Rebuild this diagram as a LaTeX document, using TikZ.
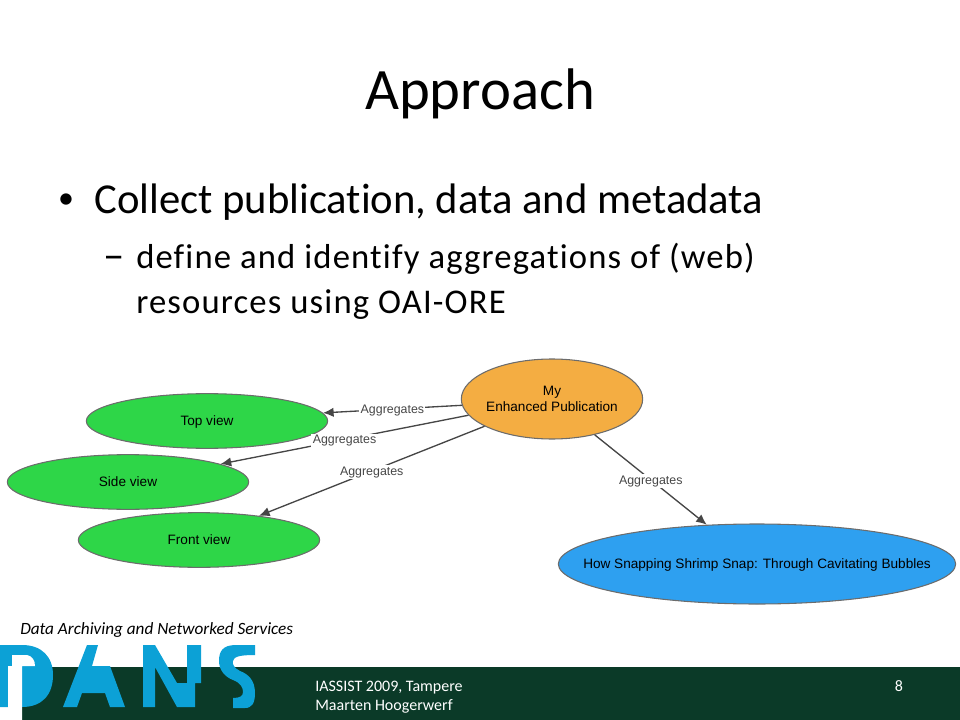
\documentclass[tikz,border=0pt]{standalone}
\usepackage{fontspec}
\setmainfont[Ligatures=CommonOff]{Carlito}
\newfontfamily\arialfont{Liberation Sans}
\newfontfamily\spacedfont[Ligatures=CommonOff,LetterSpace=3.3]{Carlito}
\usetikzlibrary{positioning,shapes.geometric,arrows.meta}
\definecolor{danspine}{RGB}{11,58,40}
\definecolor{dansblue}{RGB}{12,161,214}
\definecolor{viewgreen}{RGB}{46,214,72}
\definecolor{puborange}{RGB}{244,173,66}
\definecolor{paperblue}{RGB}{46,160,240}
\definecolor{edgegrey}{RGB}{70,70,70}
\newcommand{\blobtext}[1]{\raisebox{-3.4pt}[0pt][0pt]{#1}}
\tikzset{
  blob/.style={ellipse, draw=gray!85!black, line width=0.8pt, inner sep=0pt, align=center,
    font=\arialfont\fontsize{10.2}{12}\selectfont},
  viewblob/.style={blob, fill=viewgreen, minimum width=181pt, minimum height=41pt},
  aggr/.style={draw=edgegrey, line width=1pt, -{Latex[length=8pt,width=7pt]}},
  aggrlabel/.style={fill=white, inner sep=1pt, yshift=-1pt, text=edgegrey, font=\arialfont\fontsize{9.3}{11}\selectfont},
}
\begin{document}
\begin{tikzpicture}[x=0.75pt, y=-0.75pt]
\useasboundingbox (0, 0) rectangle (960, 720);

% footer
\fill[danspine] (22, 667) rectangle (960, 720);
\fill[dansblue] (0, 645) -- (22, 645) .. controls (42, 645) and (53, 657) .. (53, 675) .. controls (53, 695) and (42, 707) .. (22, 707) -- (0, 707) -- cycle;
\fill[white] (12, 655) -- (27, 655) .. controls (32, 656) and (35, 660) .. (35, 666) -- (22, 666) -- (22, 720) -- (8, 720) -- (8, 666) -- (12, 666) -- cycle;
\fill[dansblue] (63, 707) -- (87, 645) -- (98, 645) -- (92, 666) -- (110, 666) -- (125, 707) -- (110, 707) -- (105, 693) -- (82, 693) -- (77, 707) -- cycle;
\fill[dansblue] (143, 645) -- (155, 645) -- (177, 683) -- (187, 683) -- (187, 645) -- (201, 645) -- (201, 683) -- (195, 683) -- (195, 707) -- (177, 707) -- (155, 667) -- (155, 707) -- (143, 707) -- cycle;
\fill[dansblue] (255, 645) -- (236, 645) .. controls (222, 645) and (219, 652) .. (219, 661) .. controls (219, 670) and (225, 677) .. (233, 680) .. controls (241, 683) and (243, 688) .. (243, 692) .. controls (243, 696) and (240, 698) .. (233, 698) -- (233, 708) -- (245, 708) .. controls (252, 708) and (255, 703) .. (255, 693) .. controls (255, 680) and (248, 674) .. (240, 671) .. controls (234, 668) and (232, 664) .. (233, 661) .. controls (234, 657) and (238, 655) .. (255, 655) -- cycle;
\node[font=\itshape\fontsize{12.9}{15}\selectfont, anchor=west, inner sep=0pt] (tagline) at (20, 630) {Data Archiving and Networked Services};
\node[text=white, font=\fontsize{12}{14.5}\selectfont, anchor=north west, align=left, inner sep=0pt] (footer) at (315, 681) {IASSIST 2009, Tampere\\Maarten Hoogerwerf};
\node[text=white, font=\fontsize{12}{15}\selectfont] (pagenum) at (899, 686) {8};

% slide text
\node[font=\fontsize{44}{50}\selectfont] (title) at (480, 94) {Approach};
\node[font=\fontsize{24}{30}\selectfont] (bullet) at (66, 201) {•};
\node[font=\fontsize{32}{38}\selectfont, anchor=west, inner sep=0pt] (point) at (94, 202) {Collect publication, data and metadata};
\node[font=\fontsize{32}{34}\selectfont, anchor=west, inner sep=0pt] (dash) at (103, 263) {–};
\node[font=\spacedfont\fontsize{26}{34}\selectfont, anchor=north west, align=left, inner sep=0pt] (subpoint) at (136, 243) {define and identify aggregations of (web)\\resources using OAI-ORE};

% graph
\node[blob, fill=puborange, minimum width=136pt, minimum height=60pt] (pub) at (552, 399) {\blobtext{\makebox[80pt]{My}}\\\blobtext{\makebox[80pt]{Enhanced Publication}}};
\node[viewblob] (top) at (207, 421) {\blobtext{Top view}};
\node[viewblob] (side) at (128, 482) {\blobtext{Side view}};
\node[viewblob] (front) at (199, 540) {\blobtext{Front view}};
\node[blob, fill=paperblue, minimum width=298pt, minimum height=60pt] (paper) at (757, 564) {\blobtext{\makebox[150pt]{How Snapping Shrimp Snap: Through Cavitating Bubbles}}};

\draw[aggr] (pub.184) -- (top.4) node[aggrlabel, pos=0.5] {Aggregates};
\draw[aggr] (pub.191) -- (side.11) node[aggrlabel, pos=0.5] {Aggregates};
\draw[aggr] (pub.202) -- (front.22) node[aggrlabel, pos=0.5] {Aggregates};
\draw[aggr] (pub.320) -- (paper.142) node[aggrlabel, pos=0.5] {Aggregates};
\end{tikzpicture}
\end{document}
